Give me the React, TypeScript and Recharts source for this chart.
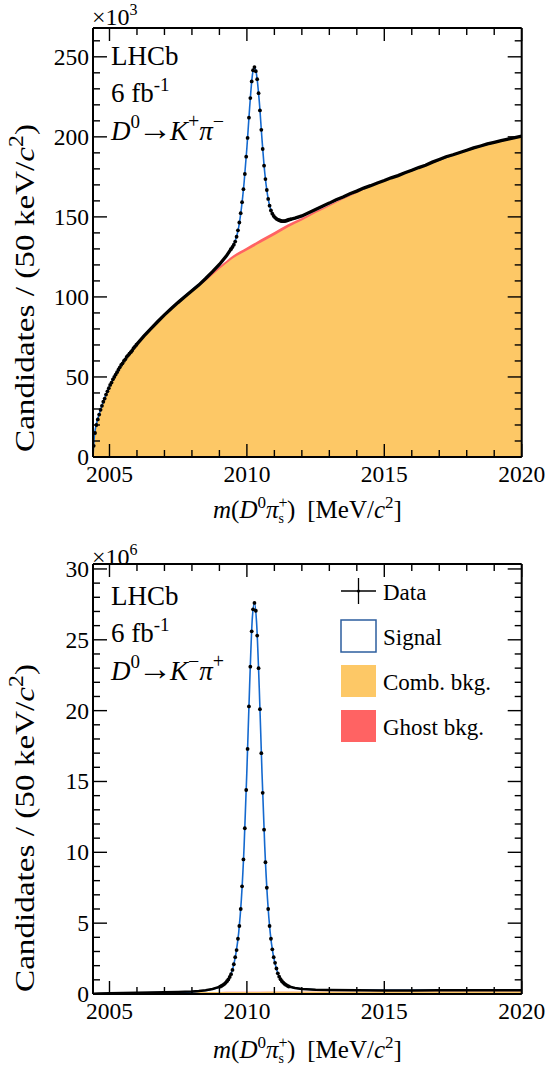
import React from "react";
import { ComposedChart, Line, Area, XAxis, YAxis } from "recharts";

const FONT = "'Liberation Serif', 'Times New Roman', serif";
const ORANGE = "#fdc866";
const RED = "#ff6363";
const BLUE = "#1469cf";
const BIN = 0.05;

// mass axis (MeV/c^2)
const massDomain: [number, number] = [2004.4, 2020];
const massTicks = [2005, 2006, 2007, 2008, 2009, 2010, 2011, 2012, 2013, 2014, 2015, 2016, 2017, 2018, 2019, 2020];

// background fit grid, shared by both panels
const bkgMass = [
  2004.4, 2004.45, 2004.5, 2004.6, 2004.75, 2005.0, 2005.25, 2005.5, 2005.75,
  2006.0, 2006.5, 2007.0, 2007.5, 2008.0, 2008.5, 2009.0, 2009.5, 2010.0, 2010.5,
  2011.0, 2011.5, 2012.0, 2012.5, 2013.0, 2013.5, 2014.0, 2014.5, 2015.0, 2015.5,
  2016.0, 2016.5, 2017.0, 2017.5, 2018.0, 2018.5, 2019.0, 2019.5, 2020.0,
];

// ---- top panel: D0 -> K+ pi-  (x10^3 candidates)
const topYTicks = [0, 10, 20, 30, 40, 50, 60, 70, 80, 90, 100, 110, 120, 130, 140, 150, 160, 170, 180, 190, 200, 210, 220, 230, 240, 250, 260];
const topComb = [
  0, 13, 18.5, 25, 33, 43.8, 52.2, 58.8, 65.0,
  70.3, 79.8, 88.6, 96.3, 103.2, 110.0, 117.4, 124.2, 129.0, 133.8,
  138.6, 143.6, 147.8, 152.4, 156.7, 161.0, 165.0, 168.8, 172.3, 175.6,
  178.8, 182.0, 185.4, 188.6, 191.4, 194.1, 196.4, 198.5, 200.3,
];
const topGhost = [
  0, 0, 0, 0, 0, 0, 0, 0, 0,
  0, 0, 0.1, 0.3, 0.6, 1.0, 1.4, 1.7, 1.9, 2.0,
  2.0, 1.8, 1.5, 1.1, 0.8, 0.5, 0.3, 0.2, 0.1, 0,
  0, 0, 0, 0, 0, 0, 0, 0, 0,
];
const topFitMass = [
  2004.4, 2004.45, 2004.5, 2004.6, 2004.75, 2005.0, 2005.25, 2005.5, 2005.75, 2006.0,
  2006.5, 2007.0, 2007.5, 2008.0, 2008.5, 2008.75, 2009.0, 2009.2, 2009.4, 2009.5,
  2009.6, 2009.7, 2009.8, 2009.9, 2010.0, 2010.1, 2010.2, 2010.275, 2010.35, 2010.45,
  2010.55, 2010.65, 2010.75, 2010.85, 2010.95, 2011.1, 2011.3, 2011.5, 2011.75, 2012.0,
  2012.5, 2013.0, 2014.0, 2015.0, 2016.0, 2017.0, 2018.0, 2019.0, 2020.0,
];
const topFitTotal = [
  0, 13.2, 18.8, 25.3, 33.4, 44.2, 52.6, 59.3, 65.5, 70.8,
  80.3, 89, 97, 104.3, 111.6, 115.6, 120.1, 124.4, 129.4, 132.3,
  136.3, 143.5, 155.3, 171.8, 193.2, 218.3, 238.6, 243.6, 239, 222.3,
  198.4, 177.6, 163.8, 155.5, 151.3, 148.5, 147.3, 147.8, 149, 150.6,
  154.8, 158.5, 166, 172.8, 179, 185.6, 191.5, 196.5, 200.3,
];
// data bins (50 keV) where single points are resolved
const topThreshStart = 2004.425;
const topThreshCounts = [
  7, 15, 20, 23.5, 26.5, 29.5, 32, 34.5, 36.5, 39, 41, 43, 45, 46.5, 48.5, 50,
  51.5, 53, 54.5, 56, 57.5, 58.5, 60, 61, 62.5, 63.5, 64.5, 65.5, 66.5, 68, 69, 70,
];
const topPeakStart = 2009.425;
const topPeakCounts = [
  130, 131.2, 132.6, 134.6, 137.6, 141.6, 146.5, 152.3, 159.2, 167.3, 176.8, 187.6,
  199.3, 212, 224.2, 234.6, 241.6, 243.6, 241, 236, 227.3, 216.5, 204.4, 192.4,
  182, 173.6, 166.8, 161.2, 157, 154, 152, 150.6,
  149.6, 148.8, 148.3, 147.9, 147.6, 147.3, 147.3, 147.4, 147.6, 147.9, 148.2, 148.5,
];
// dense data where the points merge into a band
const topLeftMass = [2005.975, 2006.25, 2006.5, 2006.75, 2007.0, 2007.25, 2007.5, 2007.75, 2008.0, 2008.25, 2008.5, 2008.75, 2009.0, 2009.25, 2009.425];
const topLeftCounts = [70, 75.5, 80, 84.5, 88.8, 92.8, 96.6, 100.2, 103.8, 107.4, 111.5, 115.8, 120.3, 125.5, 130];
const topRightMass = [
  2011.575, 2011.75, 2012.0, 2012.25, 2012.5, 2012.75, 2013.0, 2013.25, 2013.5, 2013.75,
  2014.0, 2014.25, 2014.5, 2014.75, 2015.0, 2015.25, 2015.5, 2015.75, 2016.0, 2016.25,
  2016.5, 2016.75, 2017.0, 2017.25, 2017.5, 2017.75, 2018.0, 2018.25, 2018.5, 2018.75,
  2019.0, 2019.25, 2019.5, 2019.75, 2020.0,
];
const topRightCounts = [
  148.5, 149.2, 150.6, 152.6, 154.6, 156.7, 158.6, 160.7, 162.4, 164.4,
  166.1, 168.0, 169.5, 171.2, 172.7, 174.4, 175.8, 177.6, 179.1, 180.8,
  182.3, 184.2, 185.9, 187.6, 188.8, 190.2, 191.6, 193.1, 194.3, 195.6,
  196.6, 197.7, 198.6, 199.5, 200.4,
];

// ---- bottom panel: D0 -> K- pi+  (x10^6 candidates)
const botYTicks = [0, 1, 2, 3, 4, 5, 6, 7, 8, 9, 10, 11, 12, 13, 14, 15, 16, 17, 18, 19, 20, 21, 22, 23, 24, 25, 26, 27, 28, 29, 30];
const botComb = [
  0, 0.01, 0.02, 0.03, 0.04, 0.05, 0.06, 0.07, 0.08,
  0.09, 0.1, 0.11, 0.12, 0.13, 0.135, 0.14, 0.145, 0.15, 0.15,
  0.155, 0.155, 0.16, 0.16, 0.16, 0.165, 0.165, 0.165, 0.17, 0.17,
  0.17, 0.17, 0.175, 0.175, 0.175, 0.175, 0.18, 0.18, 0.18,
];
const botGhost = [
  0, 0, 0, 0, 0, 0, 0, 0, 0,
  0, 0, 0, 0, 0.002, 0.004, 0.006, 0.008, 0.01, 0.01,
  0.01, 0.008, 0.006, 0.004, 0.002, 0, 0, 0, 0, 0,
  0, 0, 0, 0, 0, 0, 0, 0, 0,
];
const botFitMass = [
  2004.4, 2005.0, 2006.0, 2007.0, 2008.0, 2008.5, 2008.75, 2009.0, 2009.25, 2009.5,
  2009.6, 2009.7, 2009.8, 2009.9, 2010.0, 2010.1, 2010.2, 2010.275, 2010.35, 2010.45,
  2010.55, 2010.65, 2010.75, 2010.85, 2010.95, 2011.05, 2011.2, 2011.4, 2011.75, 2012.0,
  2013.0, 2015.0, 2020.0,
];
const botFitTotal = [
  0, 0.03, 0.07, 0.1, 0.15, 0.25, 0.35, 0.5, 0.84, 1.9,
  2.85, 4.3, 6.7, 10.5, 15.8, 21.8, 26.6, 27.6, 26.3, 21.6,
  15.6, 10.4, 6.7, 4.3, 2.85, 1.95, 1.1, 0.66, 0.42, 0.35,
  0.28, 0.26, 0.27,
];
const botPeakStart = 2009.025;
const botPeakCounts = [
  0.52, 0.57, 0.63, 0.7, 0.79, 0.9, 1.03, 1.2, 1.4, 1.7, 2.1, 2.6, 3.1, 3.9, 4.8, 6.0, 7.6, 9.5, 11.7, 14.4,
  17.3, 20.3, 23.1, 25.6, 27.15, 27.6, 27.05, 25.3, 23.0, 20.1, 17.0, 14.2, 11.6, 9.3, 7.5, 6.0, 4.8, 3.9, 3.15, 2.6,
  2.2, 1.8, 1.46, 1.22, 1.04, 0.9, 0.8, 0.71, 0.64, 0.58, 0.53,
];
const botLeftMass = [2004.425, 2004.6, 2005.0, 2005.5, 2006.0, 2006.5, 2007.0, 2007.5, 2008.0, 2008.25, 2008.5, 2008.75, 2009.025];
const botLeftCounts = [0.02, 0.04, 0.06, 0.075, 0.09, 0.11, 0.13, 0.15, 0.18, 0.21, 0.26, 0.35, 0.52];
const botRightMass = [2011.525, 2011.75, 2012.0, 2012.5, 2013.0, 2014.0, 2015.0, 2016.0, 2017.0, 2018.0, 2019.0, 2020.0];
const botRightCounts = [0.53, 0.42, 0.35, 0.3, 0.28, 0.26, 0.25, 0.25, 0.26, 0.26, 0.27, 0.27];

type Pt = { m: number; y: number };
const zip = (xs: number[], ys: number[]): Pt[] => xs.map((m, i) => ({ m, y: ys[i] }));
const bins = (start: number, ys: number[]): Pt[] =>
  ys.map((y, i) => ({ m: +(start + i * BIN).toFixed(3), y }));
const bkgRows = (comb: number[], ghost: number[]) =>
  bkgMass.map((m, i) => ({ m, comb: comb[i], total: comb[i] + ghost[i] }));

const axisStyle = { stroke: "#000", strokeWidth: 2 };
const tickLineStyle = { stroke: "#000", strokeWidth: 1.4 };

function makeXTick(side: "bottom" | "top") {
  return (p: any) => {
    const v = p.payload.value as number;
    const major = v % 5 === 0;
    const len = major ? 13 : 7;
    const dir = side === "bottom" ? -1 : 1;
    return (
      <g>
        <line x1={p.x} x2={p.x} y1={p.y} y2={p.y + dir * len} {...tickLineStyle} />
        {side === "bottom" && major ? (
          <text x={p.x} y={p.y + 25} textAnchor="middle" fontSize={23.5} fontFamily={FONT} fill="#000">
            {v}
          </text>
        ) : null}
      </g>
    );
  };
}

function makeYTick(side: "left" | "right", majorStep: number) {
  return (p: any) => {
    const v = p.payload.value as number;
    const major = v % majorStep === 0;
    const len = major ? 14 : 7;
    const dir = side === "left" ? 1 : -1;
    return (
      <g>
        <line x1={p.x} x2={p.x + dir * len} y1={p.y} y2={p.y} {...tickLineStyle} />
        {side === "left" && major ? (
          <text x={p.x - 4} y={p.y + 8} textAnchor="end" fontSize={23.5} fontFamily={FONT} fill="#000">
            {v}
          </text>
        ) : null}
      </g>
    );
  };
}

interface PanelProps {
  top: number;
  height: number;
  marginTop: number;
  marginBottom: number;
  yMax: number;
  yTicks: number[];
  yMajor: number;
  bandWidth: number;
  bkg: { m: number; comb: number; total: number }[];
  fit: Pt[];
  dots: Pt[][];
  lines: Pt[][];
}

function Panel(p: PanelProps) {
  const yDomain: [number, number] = [0, p.yMax];
  return (
    <div style={{ position: "absolute", left: 0, top: p.top }}>
      <ComposedChart
        width={546}
        height={p.height}
        margin={{ top: p.marginTop, right: 23.3, bottom: p.marginBottom, left: 33 }}
      >
        <XAxis
          dataKey="m"
          type="number"
          domain={massDomain}
          allowDataOverflow
          ticks={massTicks}
          interval={0}
          tickSize={0}
          tickMargin={0}
          tickLine={false}
          tick={makeXTick("bottom")}
          axisLine={axisStyle}
          height={30}
        />
        <XAxis
          xAxisId="t"
          orientation="top"
          dataKey="m"
          type="number"
          domain={massDomain}
          allowDataOverflow
          ticks={massTicks}
          interval={0}
          tickSize={0}
          tickMargin={0}
          tickLine={false}
          tick={makeXTick("top")}
          axisLine={axisStyle}
          height={1}
        />
        <YAxis
          type="number"
          domain={yDomain}
          allowDataOverflow
          ticks={p.yTicks}
          interval={0}
          tickSize={0}
          tickMargin={0}
          tickLine={false}
          tick={makeYTick("left", p.yMajor)}
          axisLine={axisStyle}
          width={60}
        />
        <YAxis
          yAxisId="r"
          orientation="right"
          type="number"
          domain={yDomain}
          allowDataOverflow
          ticks={p.yTicks}
          interval={0}
          tickSize={0}
          tickMargin={0}
          tickLine={false}
          tick={makeYTick("right", p.yMajor)}
          axisLine={axisStyle}
          width={1}
        />
        <Area data={p.bkg} dataKey="total" type="monotone" fill={RED} fillOpacity={1} stroke="none" isAnimationActive={false} />
        <Area data={p.bkg} dataKey="comb" type="monotone" fill={ORANGE} fillOpacity={1} stroke="none" isAnimationActive={false} />
        <Line data={p.fit} dataKey="y" type="monotone" stroke={BLUE} strokeWidth={1.6} dot={false} activeDot={false} isAnimationActive={false} />
        {p.lines.map((d, i) => (
          <Line key={"l" + i} data={d} dataKey="y" type="linear" stroke="#000" strokeWidth={p.bandWidth} dot={false} activeDot={false} isAnimationActive={false} />
        ))}
        {p.dots.map((d, i) => (
          <Line
            key={"d" + i}
            data={d}
            dataKey="y"
            stroke="none"
            dot={{ r: 1.9, fill: "#000", stroke: "none" }}
            activeDot={false}
            isAnimationActive={false}
          />
        ))}
      </ComposedChart>
    </div>
  );
}

function PanelText({ y0, mult, decay }: { y0: number; mult: string; decay: "plus" | "minus" }) {
  const k = decay === "plus" ? "+" : "\u2212";
  const pi = decay === "plus" ? "\u2212" : "+";
  return (
    <g fontFamily={FONT} fill="#000">
      <text x={92} y={y0 + 25} fontSize={24}>
        ×10<tspan fontSize={16} dy={-10}>{mult}</tspan>
      </text>
      <text x={111} y={y0 + 65} fontSize={27}>LHCb</text>
      <text x={111} y={y0 + 102} fontSize={27}>
        6 fb<tspan fontSize={19} dy={-11}>-1</tspan>
      </text>
      <text x={111} y={y0 + 140} fontSize={27}>
        <tspan fontStyle="italic">D</tspan>
        <tspan fontSize={19} dy={-12}>0</tspan>
        <tspan fontSize={34} dy={12} dx={-2}>→</tspan>
        <tspan fontStyle="italic" dx={-2}>K</tspan>
        <tspan fontSize={20} dy={-12}>{k}</tspan>
        <tspan fontStyle="italic" dy={12}>π</tspan>
        <tspan fontSize={20} dy={-12}>{pi}</tspan>
      </text>
      <text x={213} y={y0 + 518} fontSize={25}>
        <tspan fontStyle="italic">m</tspan>
        <tspan>(</tspan>
        <tspan fontStyle="italic">D</tspan>
        <tspan fontSize={17} dy={-10}>0</tspan>
        <tspan fontStyle="italic" dy={10}>π</tspan>
        <tspan fontSize={16} dy={-10}>+</tspan>
        <tspan fontSize={14} dx={-9} dy={15}>s</tspan>
        <tspan dx={3} dy={-5}>)</tspan>
        <tspan dx={12}>[MeV/</tspan>
        <tspan fontStyle="italic">c</tspan>
        <tspan fontSize={17} dy={-10}>2</tspan>
        <tspan dy={10}>]</tspan>
      </text>
      <text
        x={0}
        y={0}
        fontSize={28}
        textAnchor="middle"
        textLength={328}
        lengthAdjust="spacingAndGlyphs"
        transform={`translate(34, ${y0 + 288}) rotate(-90)`}
      >
        Candidates / (50 keV/<tspan fontStyle="italic">c</tspan>
        <tspan fontSize={20} dy={-11}>2</tspan>
        <tspan dy={11}>)</tspan>
      </text>
    </g>
  );
}

function Legend() {
  const rows = [
    { label: "Signal", y: 620, fill: "#fff", stroke: "#2c5e9e" },
    { label: "Comb. bkg.", y: 665, fill: ORANGE, stroke: "none" },
    { label: "Ghost bkg.", y: 710, fill: RED, stroke: "none" },
  ];
  return (
    <g fontFamily={FONT} fill="#000">
      <line x1={341} x2={376} y1={591} y2={591} stroke="#000" strokeWidth={1.3} />
      <line x1={358.5} x2={358.5} y1={578} y2={604} stroke="#000" strokeWidth={1.3} />
      <circle cx={358.5} cy={591} r={1.6} fill="#000" />
      <text x={383} y={600} fontSize={23}>Data</text>
      {rows.map((r) => (
        <g key={r.label}>
          <rect x={341} y={r.y} width={35} height={32} fill={r.fill} stroke={r.stroke} strokeWidth={1.5} />
          <text x={383} y={r.y + 25} fontSize={23}>{r.label}</text>
        </g>
      ))}
    </g>
  );
}

export default function App() {
  return (
    <div style={{ position: "absolute", left: 0, top: 0, width: 546, height: 1067, background: "#fff" }}>
      <Panel
        top={0}
        height={533}
        marginTop={27}
        marginBottom={46}
        yMax={268}
        yTicks={topYTicks}
        yMajor={50}
        bandWidth={3.3}
        bkg={bkgRows(topComb, topGhost)}
        fit={zip(topFitMass, topFitTotal)}
        lines={[zip(topLeftMass, topLeftCounts), zip(topRightMass, topRightCounts)]}
        dots={[bins(topThreshStart, topThreshCounts), bins(topPeakStart, topPeakCounts)]}
      />
      <Panel
        top={533}
        height={534}
        marginTop={30}
        marginBottom={43}
        yMax={30.35}
        yTicks={botYTicks}
        yMajor={5}
        bandWidth={2.5}
        bkg={bkgRows(botComb, botGhost)}
        fit={zip(botFitMass, botFitTotal)}
        lines={[zip(botLeftMass, botLeftCounts), zip(botRightMass, botRightCounts)]}
        dots={[bins(botPeakStart, botPeakCounts)]}
      />
      <svg width={546} height={1067} style={{ position: "absolute", left: 0, top: 0, pointerEvents: "none" }}>
        <PanelText y0={0} mult="3" decay="plus" />
        <PanelText y0={540} mult="6" decay="minus" />
        <Legend />
      </svg>
    </div>
  );
}
